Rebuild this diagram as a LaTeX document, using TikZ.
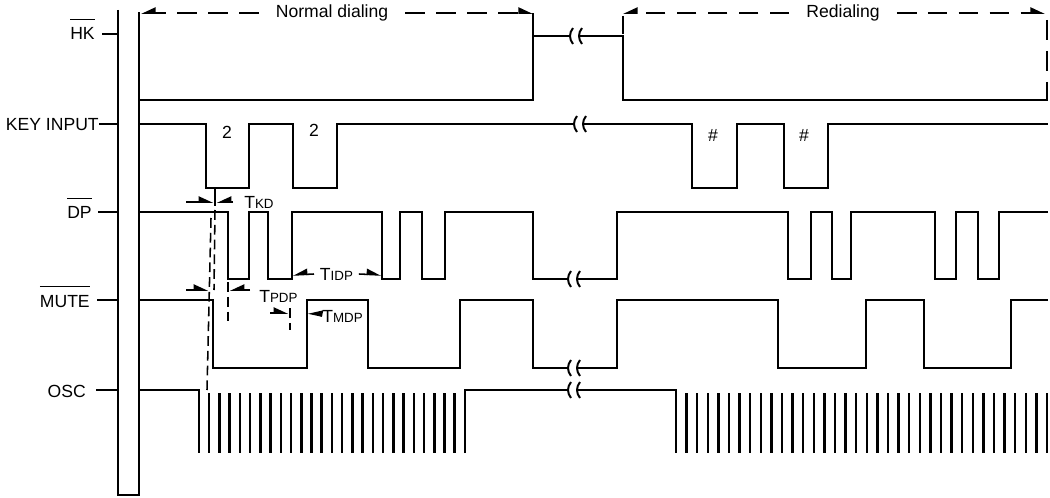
\documentclass[tikz,border=0pt]{standalone}
\usepackage{fontspec}
\setmainfont{Liberation Sans}
\usetikzlibrary{arrows.meta}
\newcommand\ovl[1]{$\overline{\mbox{\rule{0pt}{13pt}#1}}$}
\newcommand\tsub[1]{T{\fontsize{9.5}{10}\selectfont #1}}

\begin{document}
\begin{tikzpicture}[x=0.025cm,y=-0.025cm,
  wave/.style={line width=1.4pt,line join=miter},
  lbl/.style={font=\fontsize{12.5}{14}\selectfont,inner sep=0pt},
  span/.style={line width=1.3pt,dash pattern=on 14pt off 8pt},
  rtip/.style={-{Triangle[left,length=9pt,width=8pt]}},
  ltip/.style={-{Triangle[right,length=9pt,width=8pt]}},
  tm/.style={line width=1.1pt},
  guide/.style={line width=1.1pt,dash pattern=on 7pt off 3.5pt},
  brk/.pic={\draw[wave] (1,-8) .. controls (-3,-3) and (-3,3) .. (1,8);
            \draw[wave] (10,-8) .. controls (6,-3) and (6,3) .. (10,8);}]
\useasboundingbox (0,0) rectangle (1050,498);

\node[lbl,anchor=base east] (hk) at (95,40) {\ovl{HK}};
\node[lbl,anchor=base east] (key) at (99,131) {KEY INPUT};
\node[lbl,anchor=base east] (dp) at (92,219) {\ovl{DP}};
\node[lbl,anchor=base east] (mute) at (90,307) {\ovl{MUTE}};
\node[lbl,anchor=base east] (osc) at (86,397) {OSC};

\draw[wave] (102,34) -- (118,34);
\draw[wave] (99,124) -- (118,124);
\draw[wave] (98,212) -- (118,212);
\draw[wave] (97,300) -- (118,300);
\draw[wave] (96,390) -- (118,390);
\draw[wave] (118,10) -- (118,495) -- (139,495) -- (139,12);

\node[lbl,inner xsep=12] (nd) at (332,13) {Normal dialing};
\draw[span,ltip] (nd.west) -- (141,13);
\draw[span,rtip] (nd.east) -- (533,13);
\node[lbl,inner xsep=12] (rd) at (843,13) {Redialing};
\draw[span,ltip] (rd.west) -- (623,13);
\draw[span,rtip] (rd.east) -- (1045,13);
\draw[span] (623,16) -- (623,34);
\draw[span] (1047,20) -- (1047,100);

\draw[wave] (139,100) -- (533,100) -- (533,13);
\draw[wave] (533,36) -- (570,36);
\pic at (572,36) {brk};
\draw[wave] (579,36) -- (623,36) -- (623,100) -- (1048,100);

\draw[wave] (139,124) -- (206,124) -- (206,188) -- (249,188) -- (249,124) -- (293,124) -- (293,188)
  -- (337,188) -- (337,124) -- (574,124);
\pic at (576,124) {brk};
\draw[wave] (583,124) -- (692,124) -- (692,188) -- (737,188) -- (737,124) -- (784,124) -- (784,188)
  -- (828,188) -- (828,124) -- (1048,124);
\node[lbl] (k1) at (227,132) {2};
\node[lbl] (k2) at (314,130) {2};
\node[lbl] (k3) at (713,135) {\#};
\node[lbl] (k4) at (804,135) {\#};

\draw[wave] (139,212) -- (228,212) -- (228,279) -- (249,279) -- (249,212) -- (268,212) -- (268,279)
  -- (292,279) -- (292,212) -- (382,212) -- (382,279) -- (400,279) -- (400,212) -- (422,212)
  -- (422,279) -- (445,279) -- (445,212) -- (533,212) -- (533,279) -- (568,279);
\pic at (570,279) {brk};
\draw[wave] (577,279) -- (617,279) -- (617,212) -- (788,212) -- (788,279) -- (811,279) -- (811,212)
  -- (832,212) -- (832,279) -- (851,279) -- (851,212) -- (935,212) -- (935,279) -- (956,279)
  -- (956,212) -- (978,212) -- (978,279) -- (999,279) -- (999,212) -- (1048,212);

\draw[wave] (139,300) -- (213,300) -- (213,368) -- (307,368) -- (307,300) -- (368,300) -- (368,368)
  -- (460,368) -- (460,300) -- (533,300) -- (533,368) -- (568,368);
\pic at (570,368) {brk};
\draw[wave] (577,368) -- (617,368) -- (617,300) -- (778,300) -- (778,368) -- (866,368) -- (866,300)
  -- (924,300) -- (924,368) -- (1011,368) -- (1011,300) -- (1048,300);

\draw[wave] (139,390) -- (199,390) -- (199,453);
\foreach \i in {1,...,25}
  \draw[wave,line width=1.8pt] ({199+\i*10.23},393) -- ++(0,60);
\draw[wave] (465,453) -- (465,390) -- (568,390);
\pic at (570,390) {brk};
\draw[wave] (577,390) -- (676,390) -- (676,453);
\foreach \i in {1,...,35}
  \draw[wave,line width=1.8pt] ({676+\i*10.6},393) -- ++(0,60);

\draw[tm] (215,188) -- (215,206);
\draw[guide] (215,210) -- (214,290);
\draw[guide] (211,218) -- (207,390);
\draw[guide] (228,282) -- (228,322);
\draw[guide] (290,308) -- (290,330);

\node[lbl,anchor=west] (tkd) at (244,202) {\tsub{KD}};
\draw[tm,rtip] (186,202) -- (213,202);
\draw[tm,ltip] (233,202) -- (217,202);
\node[lbl,anchor=west] (tpdp) at (259,296) {\tsub{PDP}};
\draw[tm,rtip] (186,290) -- (208,290);
\draw[tm,ltip] (250,290) -- (230,290);
\node[lbl,anchor=west,inner xsep=4] (tidp) at (314,274) {\tsub{IDP}};
\draw[tm,ltip] (tidp.west) -- (293,275);
\draw[tm,rtip] (tidp.east) -- (381,275);
\node[lbl,anchor=west] (tmdp) at (322,316) {\tsub{MDP}};
\draw[tm,rtip] (270,313) -- (288,313);
\draw[tm,ltip] (tmdp.west) -- (308,313);
\end{tikzpicture}
\end{document}
